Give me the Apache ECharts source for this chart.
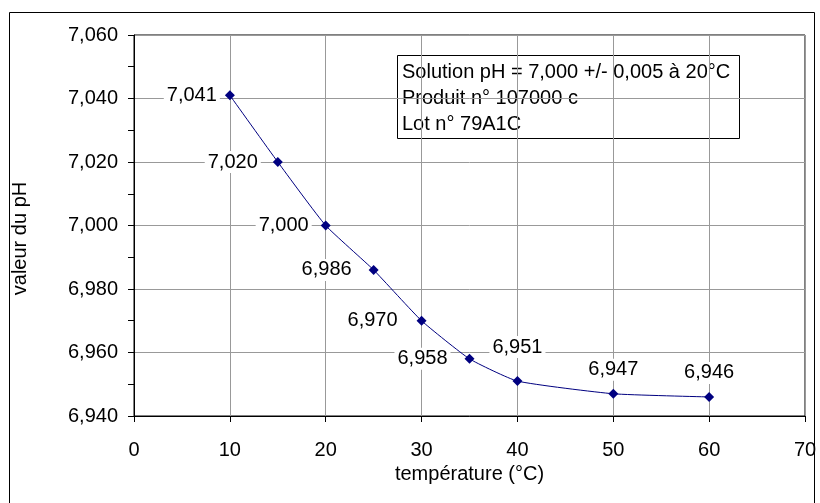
<!DOCTYPE html>
<html>
<head>
<meta charset="utf-8">
<script src="https://cdn.jsdelivr.net/npm/echarts@6/dist/echarts.min.js"></script>
<style>
  html, body { margin: 0; padding: 0; background: #fff; }
  #chart { width: 820px; height: 503px; }
</style>
</head>
<body>
<div id="chart"></div>
<script>
// pH of the buffer solution as a function of temperature
const temperatures = [10, 15, 20, 25, 30, 35, 40, 50, 60];
const phValues = [7.041, 7.020, 7.000, 6.986, 6.970, 6.958, 6.951, 6.947, 6.946];

// where each value label sits relative to its point
const labelSide = ['left', 'left', 'left', 'left', 'left', 'left', 'top', 'top', 'top'];
const labelGap = [5, 12, 9, 14, 16, 14, 18, 8, 8];

const infoLines = [
  'Solution pH = 7,000 +/- 0,005 à 20°C',
  'Produit n° 107000 c',
  'Lot n° 79A1C'
];

const FONT = "'Liberation Sans', Arial, sans-serif";
const fmt = v => v.toFixed(3).replace('.', ',');

const seriesData = temperatures.map((t, i) => ({
  value: [t, phValues[i]],
  label: { position: labelSide[i], distance: labelGap[i] }
}));

const chart = echarts.init(document.getElementById('chart'), null, { renderer: 'canvas' });
chart.setOption({
  animation: false,
  backgroundColor: '#fff',
  textStyle: { fontFamily: FONT },
  grid: {
    left: 134, top: 35, width: 671, height: 381,
    show: true, borderColor: '#000', borderWidth: 1, backgroundColor: '#fff'
  },
  xAxis: {
    type: 'value', min: 0, max: 70, interval: 10,
    name: 'température (°C)', nameLocation: 'middle', nameGap: 40,
    nameTextStyle: { fontFamily: FONT, fontSize: 20, color: '#000' },
    axisLine: { show: true, onZero: false, lineStyle: { color: '#000', width: 1 } },
    axisTick: { show: true, inside: false, length: 6, lineStyle: { color: '#000' } },
    axisLabel: { fontFamily: FONT, fontSize: 20, color: '#000', margin: 24 },
    splitLine: { show: true, lineStyle: { color: '#999', width: 1 } }
  },
  yAxis: {
    type: 'value', min: 6.94, max: 7.06, interval: 0.02,
    name: 'valeur du pH', nameLocation: 'middle', nameGap: 104,
    nameTextStyle: { fontFamily: FONT, fontSize: 20, color: '#000', padding: [0, 26, 0, 0] },
    axisLine: { show: true, onZero: false, lineStyle: { color: '#000', width: 1 } },
    axisTick: { show: true, inside: false, length: 6, lineStyle: { color: '#000' } },
    minorTick: { show: true, splitNumber: 2, length: 6, lineStyle: { color: '#000' } },
    axisLabel: { fontFamily: FONT, fontSize: 20, color: '#000', margin: 16, formatter: fmt },
    splitLine: { show: true, lineStyle: { color: '#999', width: 1 } }
  },
  series: [{
    type: 'line',
    data: seriesData,
    smooth: 0.15,
    symbol: 'diamond',
    symbolSize: 10,
    itemStyle: { color: '#000080' },
    lineStyle: { color: '#000080', width: 1 },
    z: 3,
    label: {
      show: true,
      fontFamily: FONT, fontSize: 20, color: '#000',
      backgroundColor: '#fff', padding: [1, 3],
      formatter: p => fmt(p.value[1])
    },
    labelLayout: { hideOverlap: false }
  }],
  graphic: [
    {
      type: 'rect', silent: true, z: 0,
      shape: { x: 9.5, y: 12.5, width: 805, height: 520 },
      style: { fill: 'none', stroke: '#000', lineWidth: 1 }
    },
    {
      type: 'group', z: 10,
      children: [
        {
          type: 'rect',
          shape: { x: 397.5, y: 55.5, width: 342, height: 83 },
          style: { fill: '#fff', stroke: '#000', lineWidth: 1 }
        },
        {
          type: 'text', x: 402, y: 59,
          style: {
            text: infoLines.join('\n'),
            fontFamily: FONT, fontSize: 20, lineHeight: 26, fill: '#000'
          }
        }
      ]
    }
  ]
});
</script>
</body>
</html>
